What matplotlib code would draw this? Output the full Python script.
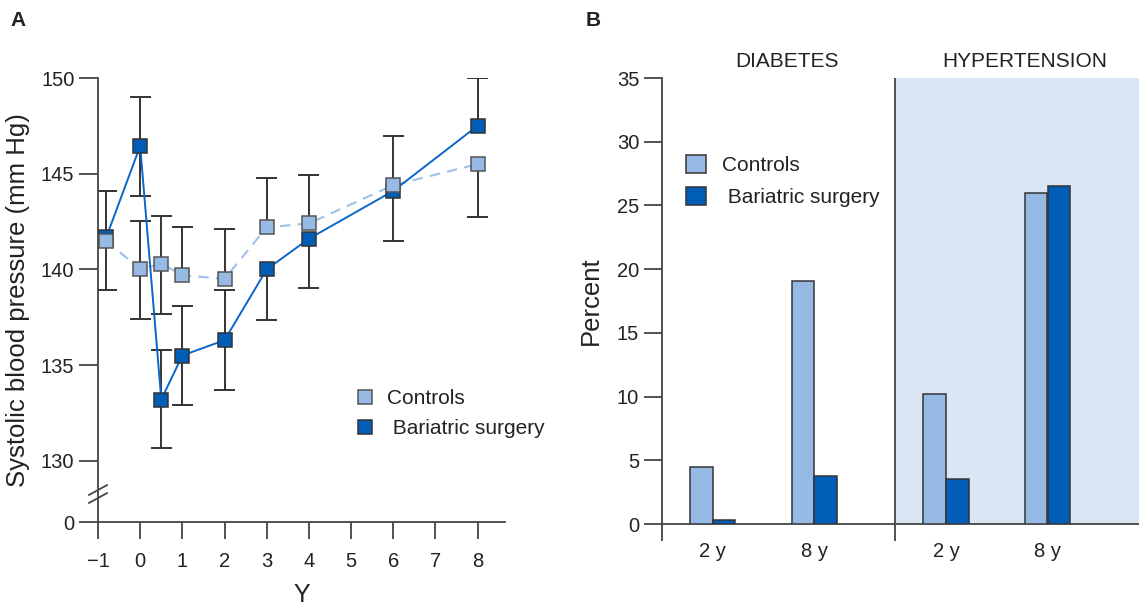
import numpy as np
import matplotlib.pyplot as plt
from matplotlib.lines import Line2D
from matplotlib.patches import Patch
import matplotlib.transforms as mtransforms

plt.rcParams['font.family'] = ['Liberation Sans', 'DejaVu Sans']
plt.rcParams['text.color'] = '#222222'
plt.rcParams['axes.labelcolor'] = '#222222'
plt.rcParams['xtick.labelcolor'] = '#222222'
plt.rcParams['ytick.labelcolor'] = '#222222'

# panel A: systolic blood pressure by year
years = np.array([-0.8, 0, 0.5, 1, 2, 3, 4, 6, 8])
sbp_controls = np.array([141.5, 140.0, 140.3, 139.7, 139.5, 142.2, 142.4, 144.4, 145.5])
sbp_surgery = np.array([141.7, 146.45, 133.2, 135.5, 136.3, 140.0, 141.6, 144.1, 147.5])
# visible error bar halves (0 = hidden in the original)
ctrl_err_hi = np.array([2.6, 2.55, 2.5, 2.5, 2.6, 2.6, 2.55, 2.55, 0.0])
ctrl_err_lo = np.array([2.6, 2.6, 2.65, 0.0, 0.0, 0.0, 0.0, 0.0, 2.75])
surg_err_hi = np.array([0.0, 2.55, 2.6, 2.6, 2.6, 0.0, 0.0, 0.0, 2.5])
surg_err_lo = np.array([0.0, 2.6, 2.55, 2.6, 2.6, 2.65, 2.55, 2.6, 0.0])

# panel B: percent with condition
periods = ['2 y', '8 y', '2 y', '8 y']
conditions = ['DIABETES', 'HYPERTENSION']
pct_controls = [4.5, 19.1, 10.2, 26.0]
pct_surgery = [0.3, 3.8, 3.5, 26.5]

LIGHT = '#96bae3'
DARK = '#005eb8'
EDGE = '#333333'
AXC = '#444444'
SHADE = '#dbe6f5'

fig = plt.figure(figsize=(11.39, 6.06), dpi=100)

# ---------------- A ----------------
axA = fig.add_axes([98 / 1139, 84 / 606, 407 / 1139, 444 / 606])
ZERO_POS = 126.8  # where "0" sits below the axis break


def draw_err(ax, x, y, lo, hi, cw=0.25):
    ax.vlines(x, y - lo, y + hi, color=EDGE, lw=1.4, zorder=2)
    m = hi > 0
    ax.hlines((y + hi)[m], x[m] - cw, x[m] + cw, color=EDGE, lw=1.4, zorder=2)
    m = lo > 0
    ax.hlines((y - lo)[m], x[m] - cw, x[m] + cw, color=EDGE, lw=1.4, zorder=2)


draw_err(axA, years, sbp_controls, ctrl_err_lo, ctrl_err_hi)
draw_err(axA, years, sbp_surgery, surg_err_lo, surg_err_hi)

axA.plot(years, sbp_controls, color='#9dc0e8', lw=1.5, ls=(0, (5, 3.5)), zorder=2.5)
axA.plot(years, sbp_surgery, color='#0a66c8', lw=1.4, zorder=2.5)
axA.plot(years, sbp_surgery, ls='none', marker='s', ms=10.5, mfc=DARK, mec=EDGE, mew=1.1, zorder=3)
axA.plot(years, sbp_controls, ls='none', marker='s', ms=10.5, mfc=LIGHT, mec='#555555', mew=1.1, zorder=4)

axA.set_xlim(-1, 8.65)
axA.set_ylim(ZERO_POS, 150)
axA.set_xticks(range(-1, 9))
axA.set_yticks([ZERO_POS, 130, 135, 140, 145, 150])
axA.set_yticklabels(['0', '130', '135', '140', '145', '150'])
for s in ['top', 'right']:
    axA.spines[s].set_visible(False)
for s in ['left', 'bottom']:
    axA.spines[s].set_color(AXC)
    axA.spines[s].set_linewidth(1.3)
axA.tick_params(axis='y', direction='out', length=13.5, width=1.3, color=AXC, labelsize=14.5, pad=3.5)
axA.tick_params(axis='x', direction='out', length=12, width=1.3, color=AXC, labelsize=14.5, pad=9.5)
axA.set_ylabel('Systolic blood pressure (mm Hg)', fontsize=18.5, labelpad=8)
axA.set_xlabel('Y', fontsize=18, labelpad=9)

# axis break marks
for yc in (0.072, 0.054):
    axA.plot([-0.022, 0.022], [yc - 0.011, yc + 0.011], transform=axA.transAxes,
             color=AXC, lw=1.3, clip_on=False)

hA = [Line2D([], [], ls='none', marker='s', ms=10.5, mfc=LIGHT, mec='#555555', mew=1.1),
      Line2D([], [], ls='none', marker='s', ms=10.5, mfc=DARK, mec=EDGE, mew=1.1)]
axA.legend(hA, ['Controls', ' Bariatric surgery'], loc='upper left', bbox_to_anchor=(0.631, 0.300),
           frameon=False, fontsize=15, handlelength=1.0, handletextpad=0.53,
           labelspacing=0.56, borderpad=0, borderaxespad=0)

fig.text(10 / 1139, 1 - 20 / 606, 'A', fontsize=15, fontweight='bold', va='center')

# ---------------- B ----------------
axB = fig.add_axes([662 / 1139, 82 / 606, 477 / 1139, 446 / 606])
pos = np.array([0.5, 1.5, 2.8, 3.8])
divider = 2.3
w = 0.222
off = 0.113

axB.axvspan(divider, 4.7, color=SHADE, lw=0, zorder=0)
axB.axvline(divider, color=AXC, lw=1.3, zorder=1)
axB.bar(pos - off, pct_controls, w, color=LIGHT, edgecolor=EDGE, lw=1.1, zorder=3)
axB.bar(pos + off, pct_surgery, w, color=DARK, edgecolor=EDGE, lw=1.1, zorder=3)

axB.set_xlim(0, 4.7)
axB.set_ylim(0, 35)
axB.set_yticks(range(0, 36, 5))
axB.set_xticks([0, divider])
axB.set_xticklabels([])
axB.set_xticks(pos, minor=True)
axB.set_xticklabels(periods, minor=True)
for s in ['top', 'right']:
    axB.spines[s].set_visible(False)
for s in ['left', 'bottom']:
    axB.spines[s].set_color(AXC)
    axB.spines[s].set_linewidth(1.3)
axB.tick_params(axis='y', direction='out', length=13, width=1.3, color=AXC, labelsize=14.5, pad=3.5)
axB.tick_params(axis='x', which='major', direction='out', length=12.5, width=1.3, color=AXC)
axB.tick_params(axis='x', which='minor', length=0, labelsize=14.5, pad=13)
axB.set_ylabel('Percent', fontsize=18.5, labelpad=10)

trans = mtransforms.blended_transform_factory(axB.transData, axB.transAxes)
for xc, name in zip([1.23, 3.57], conditions):
    axB.text(xc, 1.038, name, transform=trans, ha='center', va='center', fontsize=15)

hB = [Patch(facecolor=LIGHT, edgecolor=EDGE, lw=1.1), Patch(facecolor=DARK, edgecolor=EDGE, lw=1.1)]
axB.legend(hB, ['Controls', ' Bariatric surgery'], loc='upper left', bbox_to_anchor=(0.0503, 0.827),
           frameon=False, fontsize=15, handlelength=0.96, handleheight=0.96, handletextpad=0.75,
           labelspacing=0.57, borderpad=0, borderaxespad=0)

fig.text(586 / 1139, 1 - 20 / 606, 'B', fontsize=15, fontweight='bold', va='center')

fig.savefig('out.png', dpi=100)
